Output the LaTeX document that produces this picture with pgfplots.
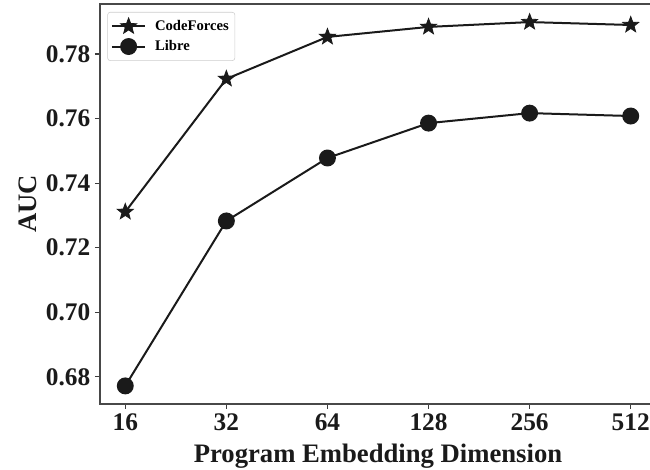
\documentclass[border=0pt]{standalone}
\usepackage{fontspec}
\setmainfont{Liberation Serif}
\usepackage{pgfplots}
\pgfplotsset{compat=1.18}
\definecolor{ink}{HTML}{1A1A1A}
\pgfdeclareplotmark{fstar}{%
  \pgfpathmoveto{\pgfqpointpolar{90}{\pgfplotmarksize}}%
  \pgfpathlineto{\pgfqpointpolar{126}{0.42\pgfplotmarksize}}%
  \pgfpathlineto{\pgfqpointpolar{162}{\pgfplotmarksize}}%
  \pgfpathlineto{\pgfqpointpolar{198}{0.42\pgfplotmarksize}}%
  \pgfpathlineto{\pgfqpointpolar{234}{\pgfplotmarksize}}%
  \pgfpathlineto{\pgfqpointpolar{270}{0.42\pgfplotmarksize}}%
  \pgfpathlineto{\pgfqpointpolar{306}{\pgfplotmarksize}}%
  \pgfpathlineto{\pgfqpointpolar{342}{0.42\pgfplotmarksize}}%
  \pgfpathlineto{\pgfqpointpolar{18}{\pgfplotmarksize}}%
  \pgfpathlineto{\pgfqpointpolar{54}{0.42\pgfplotmarksize}}%
  \pgfpathclose
  \pgfusepathqfillstroke}
\begin{document}
\begin{tikzpicture}
\begin{axis}[name=ax, at={(0,0)}, anchor=south west,
  scale only axis, width=417pt, height=300pt,
  xmin=-0.25, xmax=5.25, ymin=0.6716, ymax=0.7955,
  xtick={0,1,2,3,4,5}, xticklabels={16,32,64,128,256,512},
  ytick={0.68,0.70,0.72,0.74,0.76,0.78},
  yticklabel style={/pgf/number format/fixed, /pgf/number format/fixed zerofill, /pgf/number format/precision=2},
  /pgf/number format/assume math mode=true,
  tick label style={font=\fontsize{19}{19}\selectfont\bfseries, text=ink},
  tick align=outside, tick pos=left, major tick length=3.75pt,
  tick style={line width=0.9pt, color=ink!85},
  axis line style={line width=1pt, color=ink!80},
  xlabel={Program Embedding Dimension}, ylabel={AUC},
  label style={font=\fontsize{20}{20}\selectfont\bfseries, text=ink},
  xlabel style={yshift=-3pt},
  legend style={at={(axis description cs:0,1)}, anchor=north west, xshift=5.5pt, yshift=-6pt,
    font=\fontsize{11}{12}\selectfont\bfseries, draw=gray!40, rounded corners=2pt,
    inner xsep=2.5pt, inner ysep=4pt, row sep=2pt},
  legend cell align=left,
  legend image code/.code={\draw[mark repeat=2,mark phase=2,#1] plot coordinates {(0cm,0cm) (0.44cm,0cm) (0.88cm,0cm)}; \path (1.04cm,0cm);},
]
\addplot[ink, line width=1.5pt, mark=fstar, mark size=6.3pt, mark options={line width=0.6pt}] coordinates {(0,0.7311)(1,0.7723)(2,0.7853)(3,0.7884)(4,0.7899)(5,0.7890)};
\addlegendentry{CodeForces}
\addplot[ink, line width=1.5pt, mark=*, mark size=5.6pt] coordinates {(0,0.6772)(1,0.7283)(2,0.7478)(3,0.7586)(4,0.7617)(5,0.7608)};
\addlegendentry{Libre}
\end{axis}
\pgfresetboundingbox
\useasboundingbox (-75pt,-49.5pt) rectangle (412.5pt,303pt);
\end{tikzpicture}
\end{document}
